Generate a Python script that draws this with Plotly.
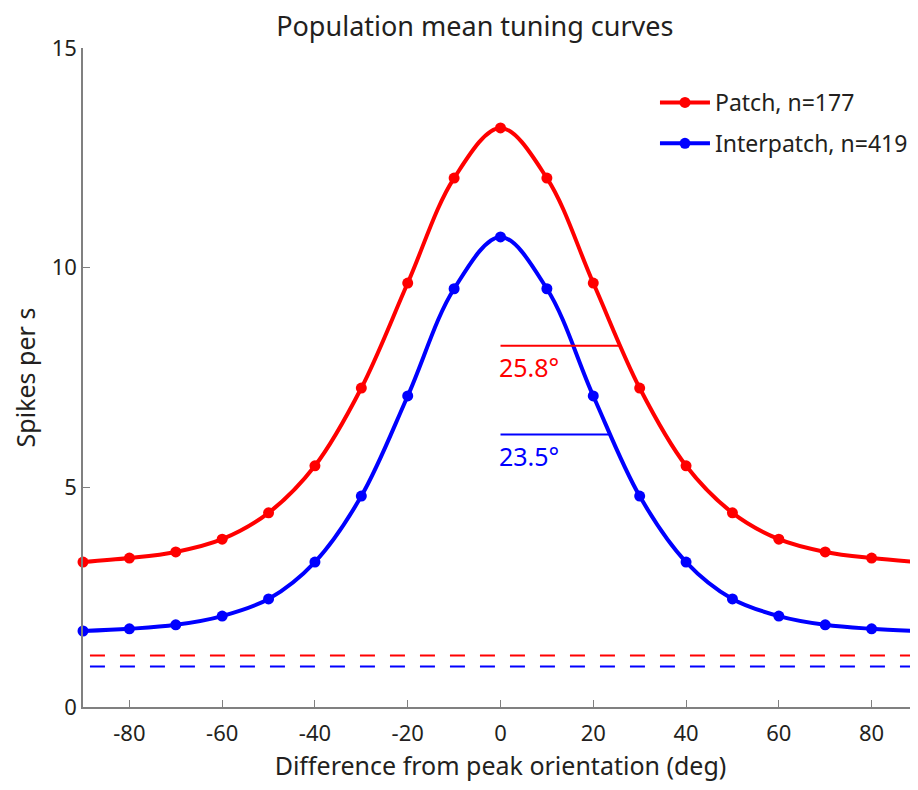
import plotly.graph_objects as go

orientation = [-90, -80, -70, -60, -50, -40, -30, -20, -10, 0, 10, 20, 30, 40, 50, 60, 70, 80, 90]
patch = [3.30, 3.39, 3.53, 3.82, 4.42, 5.49, 7.26, 9.65, 12.04, 13.18, 12.04, 9.65, 7.26, 5.49, 4.42, 3.82, 3.53, 3.39, 3.30]
interpatch = [1.73, 1.78, 1.87, 2.07, 2.46, 3.30, 4.80, 7.08, 9.52, 10.70, 9.52, 7.08, 4.80, 3.30, 2.46, 2.07, 1.87, 1.78, 1.73]
baseline_patch = 1.17
baseline_inter = 0.92
halfwidth_patch = 25.8
halfwidth_inter = 23.5
halfheight_patch = 8.22
halfheight_inter = 6.20
x_ticks = [-80, -60, -40, -20, 0, 20, 40, 60, 80]
x_ticktext = ["-80", "-60", "-40", "-20", "0", "20", "40", "60", "80"]
y_ticks = [0, 5, 10, 15]

RED = "#ff0000"
BLUE = "#0000ff"
FONT = "Noto Sans"
TXT = "#231f20"

fig = go.Figure()
fig.add_trace(go.Scatter(x=orientation, y=patch, mode="lines+markers", name="Patch, n=177",
                         legendgroup="a",
                         line=dict(color=RED, width=4, shape="spline", smoothing=1.0),
                         marker=dict(color=RED, size=11), cliponaxis=False))
fig.add_trace(go.Scatter(x=orientation, y=interpatch, mode="lines+markers", name="Interpatch, n=419",
                         legendgroup="b",
                         line=dict(color=BLUE, width=4, shape="spline", smoothing=1.0),
                         marker=dict(color=BLUE, size=11), cliponaxis=False))
# baselines
fig.add_trace(go.Scatter(x=[-88.5, 90], y=[baseline_patch]*2, mode="lines", showlegend=False,
                         line=dict(color=RED, width=2, dash="15px,15px")))
fig.add_trace(go.Scatter(x=[-88.5, 90], y=[baseline_inter]*2, mode="lines", showlegend=False,
                         line=dict(color=BLUE, width=2, dash="15px,15px")))
# half-width lines
fig.add_trace(go.Scatter(x=[0, halfwidth_patch], y=[halfheight_patch]*2, mode="lines", showlegend=False,
                         line=dict(color=RED, width=2)))
fig.add_trace(go.Scatter(x=[0, halfwidth_inter], y=[halfheight_inter]*2, mode="lines", showlegend=False,
                         line=dict(color=BLUE, width=2)))

fig.add_annotation(x=0, y=halfheight_patch, text=f"{halfwidth_patch}°", showarrow=False,
                   xanchor="left", yanchor="top", xshift=-4, yshift=-2,
                   font=dict(family=FONT, size=25, color=RED))
fig.add_annotation(x=0, y=halfheight_inter, text=f"{halfwidth_inter}°", showarrow=False,
                   xanchor="left", yanchor="top", xshift=-4, yshift=-2,
                   font=dict(family=FONT, size=25, color=BLUE))

fig.update_layout(
    width=910, height=774,
    margin=dict(l=75, r=0, t=40, b=75),
    paper_bgcolor="white", plot_bgcolor="white",
    font=dict(family=FONT, size=22, color=TXT),
    title=dict(text="Population mean tuning curves", x=0.513, xanchor="center", y=0.976, yanchor="middle",
               font=dict(family=FONT, size=27, color=TXT)),
    xaxis=dict(range=[-90, 90], tickvals=x_ticks, ticktext=x_ticktext,
               ticks="inside", ticklen=7, tickcolor="#808080", showline=True, linecolor="#808080",
               linewidth=1.5, showgrid=False, zeroline=False, ticklabelstandoff=6,
               title=dict(text="Difference from peak orientation (deg)", font=dict(size=25), standoff=14)),
    yaxis=dict(range=[0, 15], tickvals=y_ticks,
               ticks="inside", ticklen=7, tickcolor="#808080", showline=True, linecolor="#808080",
               linewidth=1.5, showgrid=False, zeroline=False,
               title=dict(text="Spikes per s", font=dict(size=25), standoff=14)),
    legend=dict(x=0.685, y=0.95, xanchor="left", yanchor="top", bgcolor="rgba(0,0,0,0)",
                font=dict(family=FONT, size=23, color=TXT), tracegroupgap=8, itemwidth=50),
)

fig.write_html("out.html")
